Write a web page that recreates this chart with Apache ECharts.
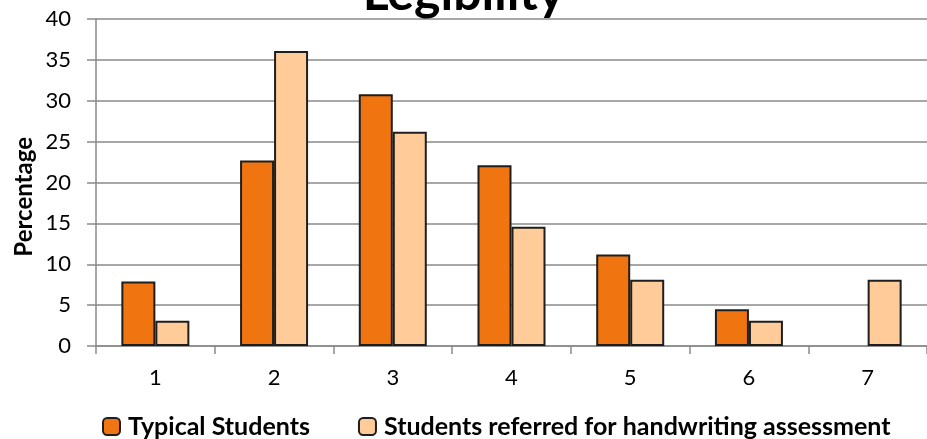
<!DOCTYPE html>
<html>
<head>
<meta charset="utf-8">
<script src="https://cdn.jsdelivr.net/npm/echarts@6/dist/echarts.min.js"></script>
<style>
  html, body { margin: 0; padding: 0; background: #ffffff; }
  #chart { width: 927px; height: 439px; }
</style>
</head>
<body>
<div id="chart"></div>
<script>
// Legibility ratings (1-7) as percentage of each student group
const categories = ['1', '2', '3', '4', '5', '6', '7'];
const typicalStudents = [7.9, 22.7, 30.8, 22.1, 11.2, 4.5, 0];
const referredStudents = [3.1, 36.1, 26.2, 14.6, 8.1, 3.1, 8.1];
const seriesNames = ['Typical Students', 'Students referred for handwriting assessment'];

const FONT = 'Lato, "Open Sans", sans-serif';
const GRID_GRAY = '#8a8a8a';

// zero-height bars get no outline so they stay invisible
function barData(values) {
  return values.map(v => (v === 0 ? { value: v, itemStyle: { borderWidth: 0 } } : v));
}

const chart = echarts.init(document.getElementById('chart'), null, { renderer: 'canvas' });

chart.setOption({
  animation: false,
  backgroundColor: '#ffffff',
  title: {
    text: 'Legibility',
    left: 'center',
    top: -36,
    textStyle: { fontFamily: FONT, fontWeight: 'bold', fontSize: 50, color: '#000000' }
  },
  grid: { left: 96, top: 19, width: 837, height: 327, containLabel: false },
  legend: {
    left: 97,
    top: 409,
    itemWidth: 17,
    itemHeight: 17,
    itemGap: 48,
    textStyle: { fontFamily: FONT, fontWeight: 'bold', fontSize: 25, color: '#000000', padding: [0, 0, 0, 3] },
    data: seriesNames
  },
  xAxis: {
    type: 'category',
    data: categories,
    axisLine: { show: true, lineStyle: { color: GRID_GRAY, width: 1.5 } },
    axisTick: { show: true, length: 8, lineStyle: { color: GRID_GRAY, width: 1.5 } },
    axisLabel: { fontFamily: FONT, fontSize: 22, color: '#000000', margin: 21 }
  },
  yAxis: {
    type: 'value',
    min: 0,
    max: 40,
    interval: 5,
    axisLine: { show: true, lineStyle: { color: GRID_GRAY, width: 1.5 } },
    axisTick: { show: true, length: 9, lineStyle: { color: GRID_GRAY, width: 1.5 } },
    axisLabel: { fontFamily: FONT, fontSize: 22, color: '#000000', margin: 25 },
    splitLine: { show: true, lineStyle: { color: GRID_GRAY, width: 1.5 } }
  },
  graphic: [{
    type: 'text',
    left: 12,
    top: 137,
    rotation: Math.PI / 2,
    style: {
      text: 'Percentage',
      fontFamily: FONT,
      fontWeight: 'bold',
      fontSize: 24,
      fill: '#000000'
    }
  }],
  series: [
    {
      name: seriesNames[0],
      type: 'bar',
      data: barData(typicalStudents),
      barWidth: 34,
      barGap: '0%',
      itemStyle: { color: '#F07510', borderColor: '#1e1e1e', borderWidth: 2 }
    },
    {
      name: seriesNames[1],
      type: 'bar',
      data: barData(referredStudents),
      barWidth: 34,
      barGap: '0%',
      itemStyle: { color: '#FFCC99', borderColor: '#1e1e1e', borderWidth: 2 }
    }
  ]
});
</script>
</body>
</html>
